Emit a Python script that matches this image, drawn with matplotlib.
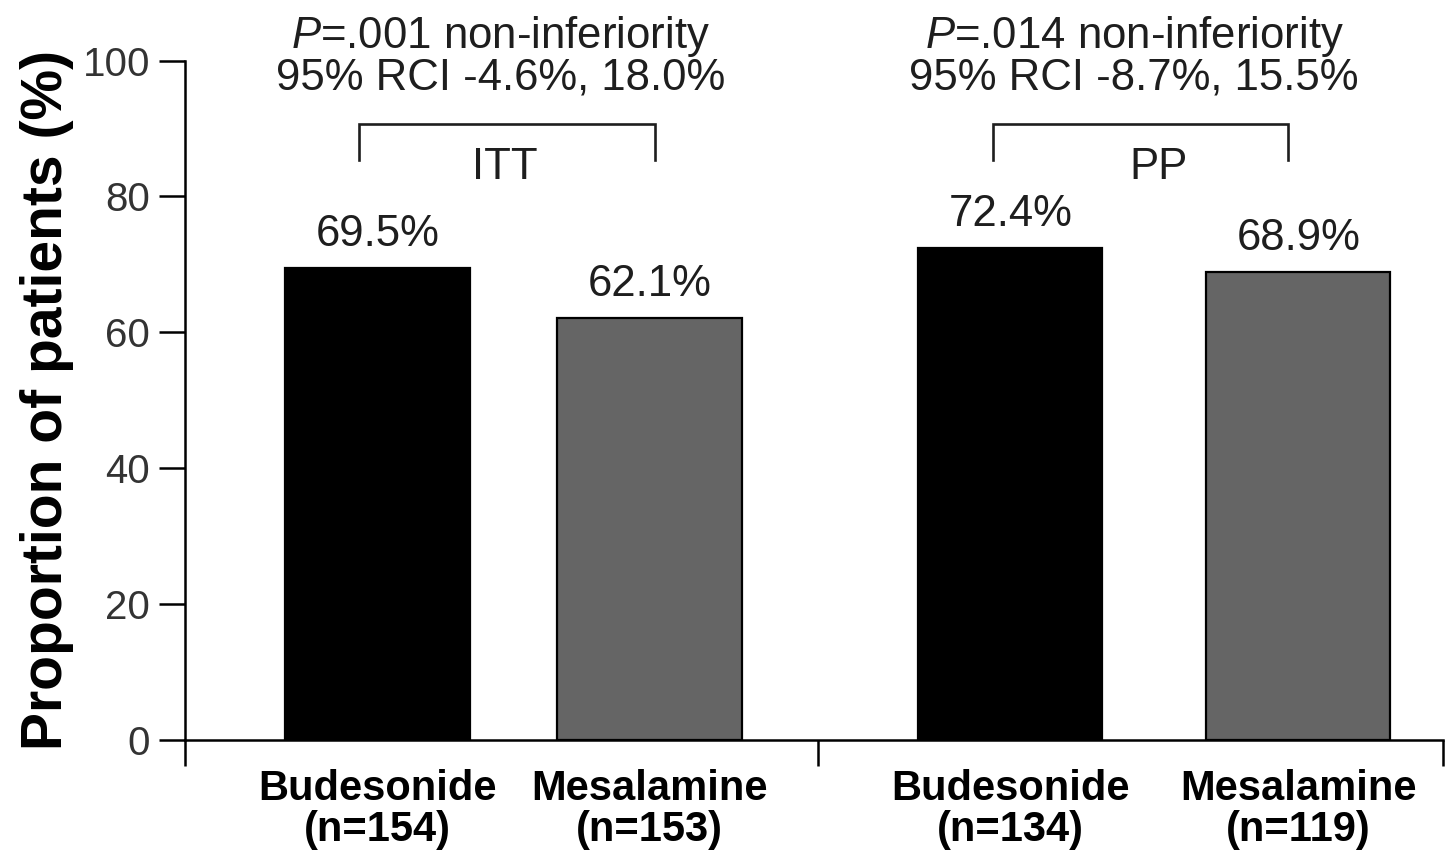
import matplotlib
matplotlib.use("Agg")
import matplotlib.pyplot as plt

plt.rcParams['font.family'] = ['Liberation Sans', 'DejaVu Sans']
plt.rcParams['mathtext.fontset'] = 'custom'
plt.rcParams['mathtext.rm'] = 'Liberation Sans'
plt.rcParams['mathtext.it'] = 'Liberation Sans:italic'

# data
groups = ['ITT', 'PP']
treatments = ['Budesonide', 'Mesalamine']
n_patients = [[154, 153], [134, 119]]
proportions = [[69.5, 62.1], [72.4, 68.9]]
p_values = ['.001', '.014']
rci = [(-4.6, 18.0), (-8.7, 15.5)]
yticks = [0, 20, 40, 60, 80, 100]

bar_colors = ['#000000', '#656565']
txt = '#1e1e1e'

# layout (x in bar-width units)
centers = [[1.046, 2.524], [4.484, 6.049]]
brackets = [[0.946, 2.554], [4.39, 5.995]]
group_label_x = [1.74, 5.29]
divider = 3.44
xmax = 6.835

fig = plt.figure(figsize=(14.45, 8.51), dpi=100)
ax = fig.add_axes([0.128, 0.1304, 0.8706, 0.7985])

labels = []
pos = []
for g in range(len(groups)):
    for t in range(len(treatments)):
        x = centers[g][t]
        v = proportions[g][t]
        ax.bar(x, v, width=1.0, color=bar_colors[t], edgecolor='black',
               linewidth=1.6, zorder=2)
        ax.text(x, v + 1.9, f'{v:.1f}%', ha='center', va='bottom',
                fontsize=31.5, color=txt)
        pos.append(x)
        labels.append(f'{treatments[t]}\n(n={n_patients[g][t]})')

    # bracket + header text
    xl, xr = brackets[g]
    ax.plot([xl, xl, xr, xr], [85.4, 90.6, 90.6, 85.4], color=txt,
            lw=1.9, clip_on=False, solid_joinstyle='miter')
    ax.text(group_label_x[g], 84.3, groups[g], ha='center', va='center',
            fontsize=31.5, color=txt)
    lo, hi = rci[g]
    head = (f'$P$=.{p_values[g][1:]} non-inferiority\n'
            f'95% RCI {lo:.1f}%, {hi:.1f}%')
    ax.text((xl + xr) / 2 - 0.035, 94.4, head, ha='center', va='bottom',
            fontsize=31.5, color=txt, linespacing=0.95)

ax.set_xlim(0, xmax)
ax.set_ylim(0, 100)
ax.set_yticks(yticks)
ax.tick_params(axis='y', length=19, width=1.8, labelsize=29,
               labelcolor='#333333', pad=6)

ax.set_xticks(pos)
ax.set_xticklabels(labels, fontsize=30, fontweight='bold', linespacing=1.02)
ax.tick_params(axis='x', which='major', length=0, pad=21)
ax.set_xticks([0, divider, xmax], minor=True)
ax.tick_params(axis='x', which='minor', length=19, width=1.8)

for s in ['top', 'right']:
    ax.spines[s].set_visible(False)
for s in ['left', 'bottom']:
    ax.spines[s].set_linewidth(1.8)

ax.set_ylabel('Proportion of patients (%)', fontsize=41, fontweight='bold',
              labelpad=6)

fig.savefig('out.png', dpi=100)
